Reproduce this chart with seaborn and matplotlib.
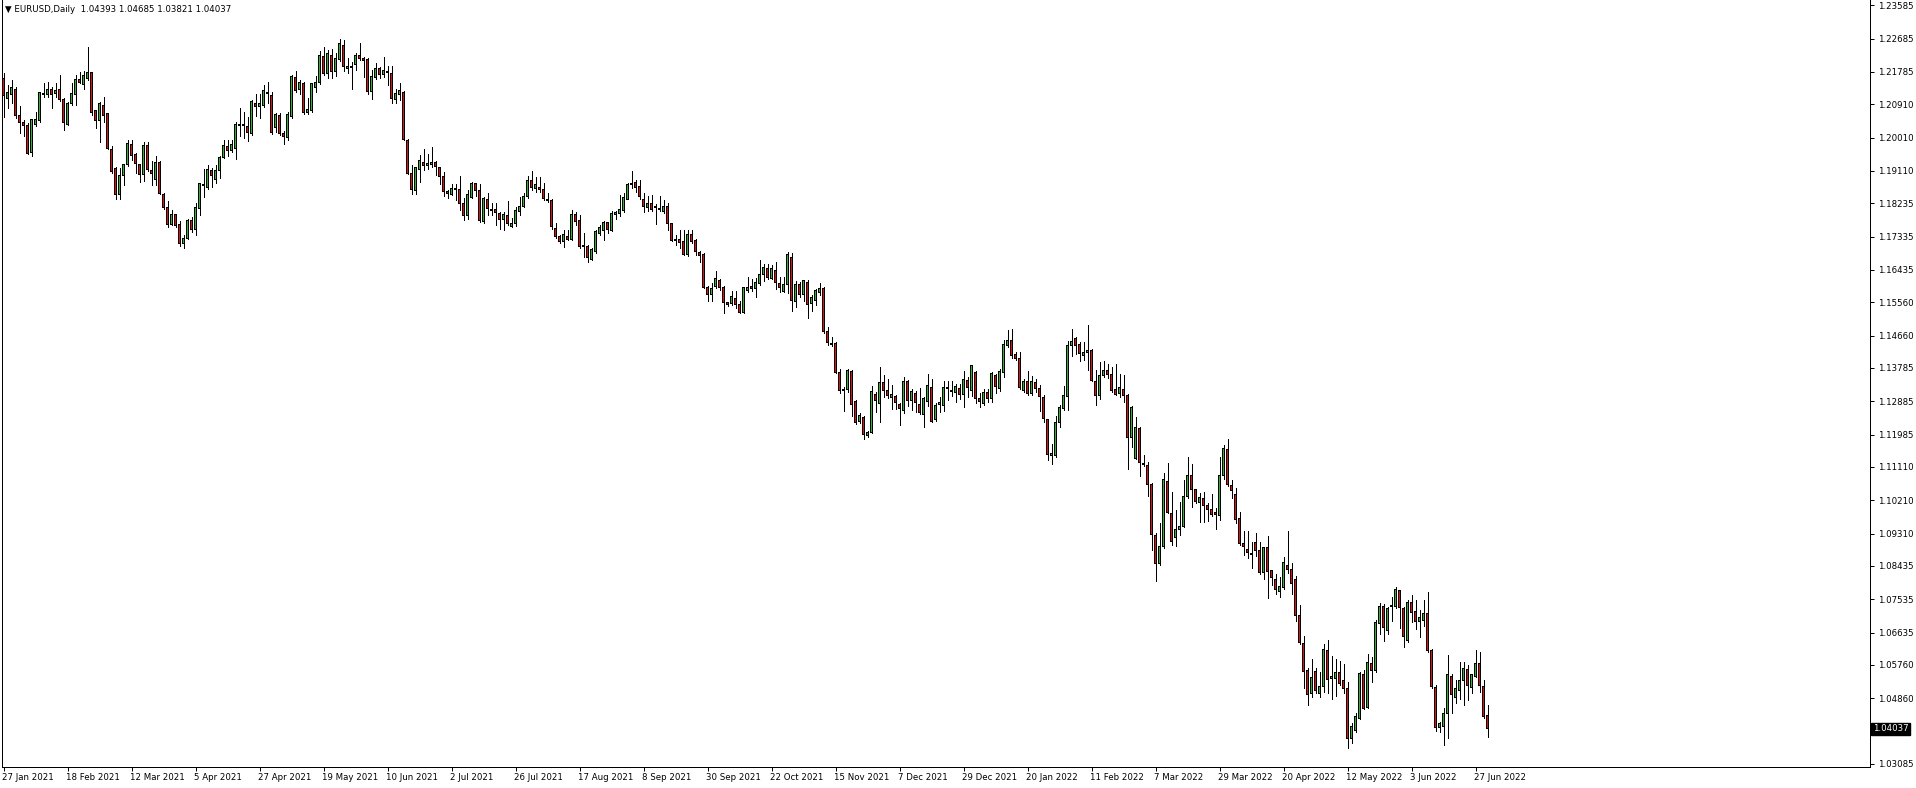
import numpy as np
import pandas as pd
import matplotlib
matplotlib.use("Agg")
import matplotlib.pyplot as plt
import matplotlib.transforms as mtransforms
import seaborn as sns

# EURUSD daily candles, 27 Jan 2021 .. 30 Jun 2022
opens = [
    1.2161, 1.2107, 1.2118, 1.2132, 1.2061, 1.2042, 1.2035, 1.1961, 1.2037, 1.2046,
    1.2118, 1.2118, 1.2130, 1.2121, 1.2131, 1.2105, 1.2037, 1.2094, 1.2118, 1.2157,
    1.2145, 1.2160, 1.2177, 1.2073, 1.2048, 1.2088, 1.2065, 1.1968, 1.1918, 1.1848,
    1.1899, 1.1929, 1.1983, 1.1954, 1.1927, 1.1901, 1.1981, 1.1913, 1.1888, 1.1934,
    1.1848, 1.1812, 1.1766, 1.1792, 1.1765, 1.1715, 1.1729, 1.1776, 1.1753, 1.1810,
    1.1875, 1.1866, 1.1912, 1.1889, 1.1913, 1.1947, 1.1978, 1.1966, 1.1972, 1.2035,
    1.2035, 1.2032, 1.2011, 1.2092, 1.2085, 1.2089, 1.2122, 1.2116, 1.2028, 1.2062,
    1.2011, 1.2001, 1.2058, 1.2163, 1.2130, 1.2146, 1.2068, 1.2073, 1.2137, 1.2149,
    1.2221, 1.2175, 1.2224, 1.2179, 1.2212, 1.2251, 1.2188, 1.2191, 1.2199, 1.2224,
    1.2215, 1.2211, 1.2125, 1.2164, 1.2188, 1.2172, 1.2177, 1.2173, 1.2104, 1.2118,
    1.2123, 1.1994, 1.1904, 1.1857, 1.1915, 1.1934, 1.1925, 1.1927, 1.1934, 1.1920,
    1.1897, 1.1856, 1.1848, 1.1861, 1.1861, 1.1823, 1.1790, 1.1840, 1.1876, 1.1858,
    1.1774, 1.1834, 1.1805, 1.1807, 1.1796, 1.1780, 1.1791, 1.1760, 1.1769, 1.1801,
    1.1816, 1.1841, 1.1884, 1.1864, 1.1867, 1.1862, 1.1834, 1.1832, 1.1756, 1.1735,
    1.1720, 1.1735, 1.1726, 1.1794, 1.1778, 1.1708, 1.1708, 1.1672, 1.1693, 1.1741,
    1.1751, 1.1772, 1.1750, 1.1792, 1.1796, 1.1804, 1.1835, 1.1877, 1.1880, 1.1870,
    1.1835, 1.1812, 1.1823, 1.1813, 1.1807, 1.1801, 1.1816, 1.1768, 1.1724, 1.1726,
    1.1720, 1.1684, 1.1740, 1.1724, 1.1691, 1.1684, 1.1596, 1.1576, 1.1598, 1.1615,
    1.1596, 1.1555, 1.1553, 1.1567, 1.1550, 1.1528, 1.1587, 1.1600, 1.1594, 1.1607,
    1.1630, 1.1646, 1.1621, 1.1641, 1.1607, 1.1586, 1.1603, 1.1677, 1.1559, 1.1605,
    1.1577, 1.1610, 1.1553, 1.1562, 1.1582, 1.1592, 1.1478, 1.1444, 1.1445, 1.1366,
    1.1321, 1.1321, 1.1370, 1.1287, 1.1233, 1.1245, 1.1196, 1.1204, 1.1307, 1.1283,
    1.1339, 1.1319, 1.1299, 1.1301, 1.1280, 1.1263, 1.1343, 1.1292, 1.1310, 1.1280,
    1.1253, 1.1287, 1.1326, 1.1238, 1.1280, 1.1278, 1.1323, 1.1314, 1.1312, 1.1322,
    1.1308, 1.1346, 1.1319, 1.1367, 1.1295, 1.1283, 1.1312, 1.1296, 1.1357, 1.1323,
    1.1367, 1.1438, 1.1454, 1.1414, 1.1405, 1.1317, 1.1343, 1.1310, 1.1340, 1.1322,
    1.1299, 1.1238, 1.1141, 1.1141, 1.1232, 1.1268, 1.1301, 1.1439, 1.1459, 1.1441,
    1.1412, 1.1421, 1.1427, 1.1342, 1.1304, 1.1357, 1.1373, 1.1360, 1.1321, 1.1310,
    1.1321, 1.1305, 1.1191, 1.1134, 1.1214, 1.1121, 1.1116, 1.1065, 1.0927, 1.0849,
    1.0897, 1.1073, 1.0984, 1.0920, 1.0942, 1.0949, 1.1032, 1.1089, 1.1049, 1.1015,
    1.1026, 1.1006, 1.0997, 1.0987, 1.0979, 1.1087, 1.1157, 1.1062, 1.1038, 1.0972,
    1.0903, 1.0889, 1.0877, 1.0907, 1.0884, 1.0825, 1.0894, 1.0830, 1.0806, 1.0774,
    1.0786, 1.0846, 1.0833, 1.0808, 1.0711, 1.0634, 1.0562, 1.0499, 1.0559, 1.0499,
    1.0519, 1.0616, 1.0540, 1.0540, 1.0556, 1.0533, 1.0513, 1.0378, 1.0398, 1.0432,
    1.0549, 1.0461, 1.0580, 1.0561, 1.0689, 1.0735, 1.0669, 1.0734, 1.0734, 1.0776,
    1.0729, 1.0642, 1.0745, 1.0720, 1.0693, 1.0696, 1.0716, 1.0616, 1.0516, 1.0407,
    1.0410, 1.0445, 1.0544, 1.0489, 1.0507, 1.0534, 1.0564, 1.0516, 1.0546, 1.0580,
    1.0519, 1.04393,
]
highs = [
    1.2175, 1.2143, 1.2157, 1.2139, 1.2087, 1.2049, 1.2040, 1.2051, 1.2071, 1.2125,
    1.2148, 1.2150, 1.2139, 1.2148, 1.2170, 1.2107, 1.2096, 1.2148, 1.2170, 1.2179,
    1.2182, 1.2245, 1.2179, 1.2076, 1.2096, 1.2112, 1.2067, 1.1977, 1.1922, 1.1918,
    1.1930, 1.1995, 1.1995, 1.1959, 1.1930, 1.1989, 1.1990, 1.1938, 1.1951, 1.1938,
    1.1850, 1.1830, 1.1805, 1.1794, 1.1776, 1.1738, 1.1781, 1.1787, 1.1823, 1.1879,
    1.1915, 1.1927, 1.1920, 1.1927, 1.1951, 1.1994, 1.1994, 1.1994, 1.2044, 1.2082,
    1.2069, 1.2057, 1.2103, 1.2119, 1.2119, 1.2143, 1.2152, 1.2125, 1.2067, 1.2067,
    1.2020, 1.2071, 1.2170, 1.2180, 1.2157, 1.2152, 1.2107, 1.2149, 1.2168, 1.2236,
    1.2247, 1.2238, 1.2240, 1.2229, 1.2267, 1.2265, 1.2215, 1.2204, 1.2230, 1.2256,
    1.2220, 1.2215, 1.2185, 1.2203, 1.2191, 1.2218, 1.2194, 1.2194, 1.2131, 1.2148,
    1.2127, 1.1996, 1.1927, 1.1922, 1.1954, 1.1970, 1.1956, 1.1975, 1.1939, 1.1922,
    1.1909, 1.1859, 1.1876, 1.1876, 1.1897, 1.1837, 1.1859, 1.1880, 1.1879, 1.1876,
    1.1840, 1.1850, 1.1823, 1.1823, 1.1801, 1.1801, 1.1831, 1.1783, 1.1814, 1.1841,
    1.1850, 1.1897, 1.1911, 1.1895, 1.1895, 1.1877, 1.1850, 1.1834, 1.1771, 1.1738,
    1.1751, 1.1751, 1.1805, 1.1801, 1.1792, 1.1744, 1.1711, 1.1704, 1.1751, 1.1765,
    1.1776, 1.1774, 1.1803, 1.1804, 1.1846, 1.1850, 1.1877, 1.1911, 1.1886, 1.1886,
    1.1850, 1.1843, 1.1846, 1.1822, 1.1843, 1.1832, 1.1823, 1.1769, 1.1738, 1.1750,
    1.1751, 1.1751, 1.1751, 1.1726, 1.1695, 1.1688, 1.1601, 1.1607, 1.1641, 1.1619,
    1.1601, 1.1558, 1.1586, 1.1586, 1.1559, 1.1598, 1.1623, 1.1618, 1.1621, 1.1670,
    1.1659, 1.1659, 1.1657, 1.1664, 1.1625, 1.1623, 1.1693, 1.1688, 1.1614, 1.1610,
    1.1616, 1.1616, 1.1576, 1.1591, 1.1609, 1.1598, 1.1490, 1.1461, 1.1448, 1.1376,
    1.1328, 1.1376, 1.1373, 1.1292, 1.1258, 1.1249, 1.1208, 1.1330, 1.1314, 1.1382,
    1.1360, 1.1349, 1.1333, 1.1305, 1.1283, 1.1355, 1.1346, 1.1322, 1.1316, 1.1325,
    1.1299, 1.1362, 1.1349, 1.1283, 1.1301, 1.1343, 1.1343, 1.1343, 1.1335, 1.1335,
    1.1371, 1.1353, 1.1387, 1.1370, 1.1312, 1.1323, 1.1321, 1.1367, 1.1361, 1.1376,
    1.1454, 1.1481, 1.1484, 1.1423, 1.1421, 1.1348, 1.1371, 1.1358, 1.1349, 1.1332,
    1.1306, 1.1241, 1.1173, 1.1249, 1.1278, 1.1330, 1.1451, 1.1484, 1.1463, 1.1448,
    1.1450, 1.1495, 1.1429, 1.1373, 1.1396, 1.1397, 1.1388, 1.1382, 1.1389, 1.1362,
    1.1360, 1.1308, 1.1277, 1.1245, 1.1218, 1.1143, 1.1125, 1.1068, 1.0932, 1.0960,
    1.1096, 1.1123, 1.1044, 1.0995, 1.1017, 1.1076, 1.1139, 1.1119, 1.1050, 1.1040,
    1.1044, 1.1013, 1.1037, 1.0999, 1.1139, 1.1170, 1.1187, 1.1076, 1.1053, 1.0990,
    1.0938, 1.0938, 1.0909, 1.0932, 1.0909, 1.0896, 1.0924, 1.0833, 1.0822, 1.0815,
    1.0869, 1.0938, 1.0852, 1.0817, 1.0738, 1.0654, 1.0567, 1.0591, 1.0568, 1.0558,
    1.0634, 1.0643, 1.0600, 1.0591, 1.0587, 1.0578, 1.0529, 1.0420, 1.0445, 1.0558,
    1.0562, 1.0607, 1.0598, 1.0698, 1.0744, 1.0741, 1.0734, 1.0761, 1.0788, 1.0779,
    1.0734, 1.0752, 1.0765, 1.0752, 1.0725, 1.0752, 1.0772, 1.0618, 1.0522, 1.0423,
    1.0459, 1.0603, 1.0551, 1.0535, 1.0585, 1.0585, 1.0576, 1.0553, 1.0616, 1.0612,
    1.0535, 1.04685,
]
lows = [
    1.2058, 1.2080, 1.2094, 1.2053, 1.2013, 1.2004, 1.1957, 1.1952, 1.2033, 1.2044,
    1.2112, 1.2112, 1.2082, 1.2112, 1.2101, 1.2022, 1.2035, 1.2089, 1.2089, 1.2148,
    1.2132, 1.2157, 1.2062, 1.2028, 1.1990, 1.2044, 1.1970, 1.1905, 1.1836, 1.1836,
    1.1874, 1.1923, 1.1941, 1.1905, 1.1880, 1.1885, 1.1910, 1.1873, 1.1873, 1.1848,
    1.1808, 1.1760, 1.1765, 1.1760, 1.1709, 1.1704, 1.1727, 1.1745, 1.1738, 1.1792,
    1.1841, 1.1862, 1.1868, 1.1877, 1.1891, 1.1945, 1.1952, 1.1963, 1.1942, 1.2005,
    1.1999, 1.1993, 1.2008, 1.2059, 1.2053, 1.2085, 1.2094, 1.2011, 1.2017, 1.2008,
    1.1985, 1.1994, 1.2053, 1.2125, 1.2120, 1.2065, 1.2066, 1.2071, 1.2125, 1.2146,
    1.2170, 1.2161, 1.2161, 1.2168, 1.2209, 1.2182, 1.2175, 1.2131, 1.2184, 1.2211,
    1.2164, 1.2118, 1.2104, 1.2159, 1.2161, 1.2166, 1.2143, 1.2094, 1.2094, 1.2103,
    1.1994, 1.1902, 1.1848, 1.1848, 1.1880, 1.1913, 1.1915, 1.1921, 1.1900, 1.1876,
    1.1844, 1.1837, 1.1846, 1.1832, 1.1805, 1.1778, 1.1780, 1.1837, 1.1844, 1.1774,
    1.1771, 1.1792, 1.1792, 1.1765, 1.1754, 1.1751, 1.1765, 1.1759, 1.1763, 1.1792,
    1.1813, 1.1839, 1.1859, 1.1855, 1.1855, 1.1832, 1.1828, 1.1753, 1.1731, 1.1715,
    1.1705, 1.1724, 1.1724, 1.1765, 1.1704, 1.1679, 1.1666, 1.1670, 1.1688, 1.1738,
    1.1724, 1.1744, 1.1749, 1.1781, 1.1789, 1.1801, 1.1834, 1.1866, 1.1855, 1.1834,
    1.1801, 1.1804, 1.1803, 1.1768, 1.1804, 1.1798, 1.1750, 1.1721, 1.1711, 1.1702,
    1.1684, 1.1681, 1.1717, 1.1684, 1.1666, 1.1594, 1.1559, 1.1560, 1.1594, 1.1589,
    1.1528, 1.1547, 1.1549, 1.1541, 1.1526, 1.1526, 1.1585, 1.1586, 1.1571, 1.1604,
    1.1614, 1.1619, 1.1618, 1.1592, 1.1585, 1.1583, 1.1580, 1.1533, 1.1544, 1.1571,
    1.1559, 1.1513, 1.1533, 1.1549, 1.1576, 1.1474, 1.1441, 1.1439, 1.1364, 1.1310,
    1.1263, 1.1314, 1.1249, 1.1227, 1.1229, 1.1186, 1.1193, 1.1202, 1.1259, 1.1233,
    1.1301, 1.1298, 1.1267, 1.1268, 1.1224, 1.1258, 1.1277, 1.1265, 1.1259, 1.1254,
    1.1220, 1.1276, 1.1233, 1.1236, 1.1260, 1.1263, 1.1292, 1.1304, 1.1287, 1.1296,
    1.1272, 1.1299, 1.1304, 1.1283, 1.1272, 1.1278, 1.1286, 1.1286, 1.1310, 1.1316,
    1.1353, 1.1434, 1.1406, 1.1400, 1.1323, 1.1314, 1.1305, 1.1305, 1.1314, 1.1263,
    1.1233, 1.1130, 1.1119, 1.1139, 1.1220, 1.1265, 1.1265, 1.1412, 1.1415, 1.1397,
    1.1400, 1.1373, 1.1342, 1.1278, 1.1295, 1.1353, 1.1351, 1.1313, 1.1305, 1.1299,
    1.1287, 1.1105, 1.1166, 1.1132, 1.1087, 1.1114, 1.1033, 1.0887, 1.0804, 1.0846,
    1.0891, 1.0986, 1.0900, 1.0897, 1.0927, 1.0948, 1.1026, 1.1002, 1.1013, 1.0963,
    1.0963, 1.0966, 1.0979, 1.0943, 1.0968, 1.1078, 1.1060, 1.1028, 1.0960, 1.0900,
    1.0873, 1.0864, 1.0837, 1.0870, 1.0821, 1.0807, 1.0756, 1.0792, 1.0769, 1.0760,
    1.0781, 1.0824, 1.0769, 1.0696, 1.0634, 1.0513, 1.0468, 1.0490, 1.0499, 1.0490,
    1.0504, 1.0499, 1.0483, 1.0493, 1.0522, 1.0499, 1.0353, 1.0364, 1.0396, 1.0429,
    1.0457, 1.0459, 1.0531, 1.0558, 1.0661, 1.0642, 1.0660, 1.0696, 1.0731, 1.0677,
    1.0625, 1.0639, 1.0693, 1.0672, 1.0651, 1.0680, 1.0612, 1.0515, 1.0398, 1.0396,
    1.0360, 1.0379, 1.0445, 1.0474, 1.0483, 1.0468, 1.0481, 1.0501, 1.0544, 1.0502,
    1.0432, 1.03821,
]
closes = [
    1.2114, 1.2123, 1.2137, 1.2060, 1.2042, 1.2033, 1.1959, 1.2049, 1.2051, 1.2123,
    1.2120, 1.2131, 1.2118, 1.2128, 1.2103, 1.2042, 1.2094, 1.2119, 1.2159, 1.2150,
    1.2168, 1.2177, 1.2069, 1.2048, 1.2092, 1.2061, 1.1972, 1.1909, 1.1848, 1.1899,
    1.1929, 1.1986, 1.1952, 1.1930, 1.1901, 1.1981, 1.1916, 1.1903, 1.1934, 1.1850,
    1.1812, 1.1765, 1.1794, 1.1763, 1.1715, 1.1729, 1.1778, 1.1754, 1.1813, 1.1877,
    1.1872, 1.1915, 1.1898, 1.1913, 1.1948, 1.1981, 1.1966, 1.1983, 1.2037, 1.2037,
    1.2035, 1.2015, 1.2098, 1.2085, 1.2092, 1.2127, 1.2120, 1.2015, 1.2064, 1.2012,
    1.2003, 1.2064, 1.2166, 1.2128, 1.2149, 1.2068, 1.2078, 1.2146, 1.2150, 1.2224,
    1.2175, 1.2229, 1.2179, 1.2215, 1.2254, 1.2193, 1.2194, 1.2192, 1.2224, 1.2215,
    1.2209, 1.2125, 1.2167, 1.2188, 1.2172, 1.2181, 1.2176, 1.2107, 1.2121, 1.2127,
    1.1996, 1.1904, 1.1861, 1.1920, 1.1940, 1.1925, 1.1931, 1.1934, 1.1922, 1.1895,
    1.1855, 1.1849, 1.1864, 1.1862, 1.1823, 1.1790, 1.1848, 1.1877, 1.1858, 1.1776,
    1.1837, 1.1810, 1.1804, 1.1799, 1.1780, 1.1794, 1.1769, 1.1769, 1.1803, 1.1816,
    1.1843, 1.1886, 1.1866, 1.1873, 1.1862, 1.1837, 1.1831, 1.1760, 1.1735, 1.1720,
    1.1740, 1.1727, 1.1794, 1.1774, 1.1706, 1.1707, 1.1677, 1.1699, 1.1747, 1.1759,
    1.1772, 1.1753, 1.1796, 1.1798, 1.1808, 1.1840, 1.1875, 1.1875, 1.1866, 1.1841,
    1.1814, 1.1823, 1.1808, 1.1812, 1.1808, 1.1816, 1.1769, 1.1722, 1.1723, 1.1718,
    1.1686, 1.1740, 1.1720, 1.1693, 1.1682, 1.1595, 1.1576, 1.1592, 1.1621, 1.1595,
    1.1555, 1.1549, 1.1571, 1.1551, 1.1528, 1.1596, 1.1596, 1.1594, 1.1610, 1.1632,
    1.1650, 1.1623, 1.1646, 1.1610, 1.1596, 1.1603, 1.1684, 1.1560, 1.1603, 1.1576,
    1.1614, 1.1550, 1.1568, 1.1589, 1.1594, 1.1477, 1.1447, 1.1443, 1.1366, 1.1317,
    1.1319, 1.1372, 1.1280, 1.1231, 1.1249, 1.1199, 1.1204, 1.1314, 1.1290, 1.1339,
    1.1317, 1.1303, 1.1307, 1.1285, 1.1268, 1.1343, 1.1292, 1.1316, 1.1286, 1.1258,
    1.1295, 1.1330, 1.1235, 1.1278, 1.1286, 1.1326, 1.1324, 1.1319, 1.1328, 1.1308,
    1.1348, 1.1325, 1.1384, 1.1295, 1.1287, 1.1312, 1.1296, 1.1364, 1.1328, 1.1370,
    1.1443, 1.1454, 1.1412, 1.1405, 1.1326, 1.1343, 1.1310, 1.1343, 1.1323, 1.1301,
    1.1241, 1.1145, 1.1148, 1.1232, 1.1272, 1.1303, 1.1438, 1.1451, 1.1439, 1.1418,
    1.1421, 1.1427, 1.1344, 1.1304, 1.1357, 1.1373, 1.1361, 1.1319, 1.1308, 1.1326,
    1.1304, 1.1191, 1.1271, 1.1218, 1.1123, 1.1118, 1.1064, 1.0929, 1.0850, 1.0897,
    1.1076, 1.0988, 1.0909, 1.0942, 1.0949, 1.1032, 1.1089, 1.1050, 1.1017, 1.1029,
    1.1006, 1.0997, 1.0983, 1.0983, 1.1087, 1.1160, 1.1065, 1.1047, 1.0969, 1.0905,
    1.0896, 1.0880, 1.0875, 1.0884, 1.0825, 1.0894, 1.0828, 1.0813, 1.0780, 1.0789,
    1.0853, 1.0833, 1.0796, 1.0709, 1.0637, 1.0558, 1.0496, 1.0542, 1.0508, 1.0519,
    1.0619, 1.0537, 1.0546, 1.0556, 1.0526, 1.0513, 1.0378, 1.0409, 1.0436, 1.0552,
    1.0459, 1.0583, 1.0560, 1.0691, 1.0735, 1.0678, 1.0729, 1.0733, 1.0780, 1.0731,
    1.0652, 1.0745, 1.0718, 1.0693, 1.0705, 1.0716, 1.0616, 1.0517, 1.0407, 1.0417,
    1.0445, 1.0551, 1.0495, 1.0513, 1.0535, 1.0567, 1.0520, 1.0551, 1.0580, 1.0520,
    1.0438, 1.04037,
]

price_ticks = [
    1.23585, 1.22685, 1.21785, 1.20910, 1.20010, 1.19110, 1.18235, 1.17335,
    1.16435, 1.15560, 1.14660, 1.13785, 1.12885, 1.11985, 1.11110, 1.10210,
    1.09310, 1.08435, 1.07535, 1.06635, 1.05760, 1.04860, 1.03085,
]
date_labels = [
    "27 Jan 2021", "18 Feb 2021", "12 Mar 2021", "5 Apr 2021", "27 Apr 2021",
    "19 May 2021", "10 Jun 2021", "2 Jul 2021", "26 Jul 2021", "17 Aug 2021",
    "8 Sep 2021", "30 Sep 2021", "22 Oct 2021", "15 Nov 2021", "7 Dec 2021",
    "29 Dec 2021", "20 Jan 2022", "11 Feb 2022", "7 Mar 2022", "29 Mar 2022",
    "20 Apr 2022", "12 May 2022", "3 Jun 2022", "27 Jun 2022",
]
label_step = 16
last_price = 1.04037
header = "\u25bc EURUSD,Daily  1.04393 1.04685 1.03821 1.04037"

df = pd.DataFrame({
    "date": pd.bdate_range("2021-01-27", periods=len(opens)),
    "open": opens, "high": highs, "low": lows, "close": closes,
})
df["x"] = np.arange(len(df))
df["bull"] = df["close"] >= df["open"]

sns.set_style("white")
plt.rcParams["font.family"] = ["DejaVu Sans"]

W, H = 1916, 788
PX = 72 / 100  # one pixel in points
fig = plt.figure(figsize=(W / 100, H / 100), dpi=100)
fig.patch.set_facecolor("white")
# chart frame: left edge ~1.5px, right edge 1870px, bottom edge 767px from top
ax = fig.add_axes([1.5 / W, (H - 767) / H, (1870 - 1.5) / W, 767 / H])

ymin, ymax = 1.23728 - 0.0002702 * 767, 1.23728
ax.set_xlim(-0.5, (1868.5 - 2) / 4)
ax.set_ylim(ymin, ymax)
one_px = (ymax - ymin) / 767

# wicks
ax.vlines(df["x"], df["low"], df["high"], color="black", linewidth=PX,
          antialiased=False, zorder=2)

# bodies: black block 3px wide, coloured core 1px wide inset by 1px
body_lo = df[["open", "close"]].min(axis=1)
body_h = (df["close"] - df["open"]).abs().clip(lower=one_px)
ax.bar(df["x"], body_h + one_px, bottom=body_lo - one_px / 2, width=0.75,
       color="black", linewidth=0, antialiased=False, zorder=3)
core_h = (body_h - one_px).clip(lower=0)
colors = np.where(df["bull"], "#2fb52f", "#e01010")
ax.bar(df["x"], core_h, bottom=body_lo + one_px / 2, width=0.25,
       color=colors, linewidth=0, antialiased=False, zorder=4)

# price axis on the right
ax.yaxis.tick_right()
ax.set_yticks(price_ticks)
ax.set_yticklabels([f"{p:.5f}" for p in price_ticks])
ax.tick_params(axis="y", direction="out", length=3, width=PX, pad=3,
               labelsize=6.2, colors="black", right=True, left=False)

# date axis, labels start at the bar
ax.set_xticks(df["x"].iloc[::label_step][:len(date_labels)])
ax.set_xticklabels(date_labels, ha="left")
ax.tick_params(axis="x", direction="out", length=3, width=PX, pad=1,
               labelsize=6.2, colors="black", bottom=True)
shift = mtransforms.ScaledTranslation(-2 / 100, 0, fig.dpi_scale_trans)
for lbl in ax.get_xticklabels():
    lbl.set_transform(lbl.get_transform() + shift)

for side in ["left", "right", "bottom"]:
    ax.spines[side].set_color("black")
    ax.spines[side].set_linewidth(PX)
ax.spines["top"].set_visible(False)
ax.grid(False)

# current price marker
trans = mtransforms.blended_transform_factory(ax.transAxes, ax.transData)
ax.text(1.0015, last_price, f"{last_price:.5f}", transform=trans, ha="left",
        va="center", color="white", fontsize=6.2, clip_on=False, zorder=5,
        bbox=dict(facecolor="black", edgecolor="black", pad=1.2))

fig.text(5 / W, 1 - 10 / H, header, ha="left", va="center", fontsize=6.2,
         color="black")

fig.savefig("out.png", dpi=100, facecolor="white")
